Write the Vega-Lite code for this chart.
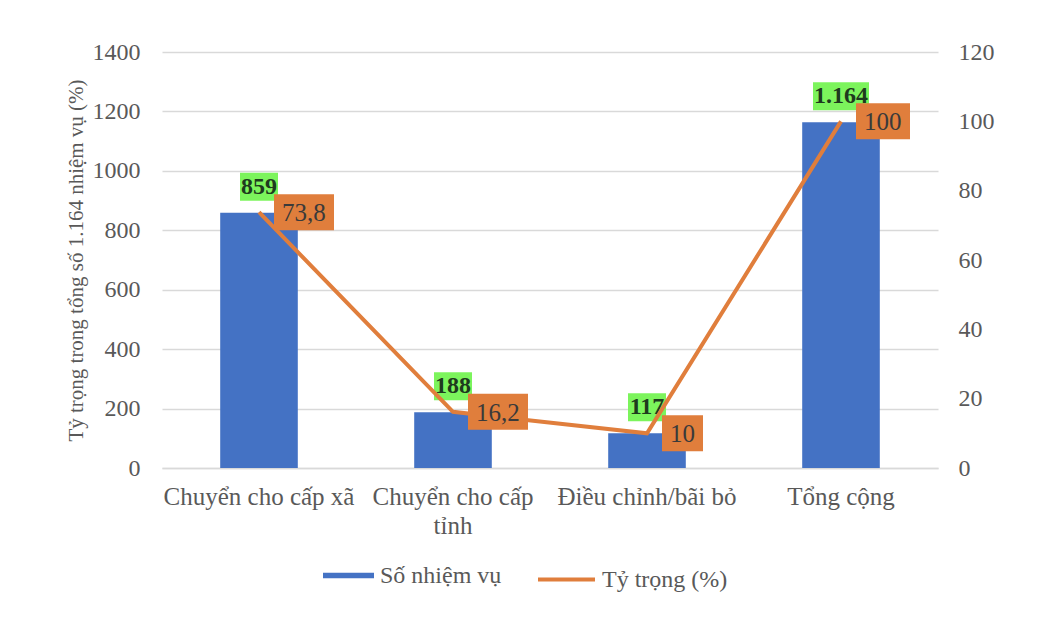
{
  "$schema": "https://vega.github.io/schema/vega-lite/v6.json",
  "autosize": {"type": "none"},
  "padding": {"left": 162, "top": 52, "right": 108, "bottom": 170},
  "width": 776,
  "height": 416,
  "background": "white",
  "config": {
    "locale": {"number": {"decimal": ",", "thousands": ".", "grouping": [3], "currency": ["", ""]}},
    "font": "Liberation Serif",
    "view": {"stroke": null},
    "text": {"font": "Liberation Serif"},
    "axis": {"labelFont": "Liberation Serif", "titleFont": "Liberation Serif", "labelColor": "#595959", "titleColor": "#595959"},
    "legend": {"labelFont": "Liberation Serif", "labelColor": "#595959"}
  },
  "data": {
    "values": [
      {"cat": "Chuyển cho cấp xã", "n": 859, "p": 73.8},
      {"cat": "Chuyển cho cấp tỉnh", "n": 188, "p": 16.2},
      {"cat": "Điều chỉnh/bãi bỏ", "n": 117, "p": 10},
      {"cat": "Tổng cộng", "n": 1164, "p": 100}
    ]
  },
  "encoding": {
    "x": {
      "field": "cat", "type": "nominal", "sort": null,
      "scale": {"paddingInner": 0.6, "paddingOuter": 0.3},
      "axis": {
        "title": null, "labelAngle": 0, "ticks": false, "labelFontSize": 25, "labelFont": "Liberation Serif",
        "labelPadding": 16, "labelLimit": 400, "domainColor": "#d9d9d9", "domainWidth": 1.5, "labelLineHeight": 29,
        "labelExpr": "datum.label == 'Chuyển cho cấp tỉnh' ? ['Chuyển cho cấp', 'tỉnh'] : datum.label"
      }
    }
  },
  "layer": [
    {
      "encoding": {
        "y": {
          "field": "n", "type": "quantitative",
          "scale": {"domain": [0, 1400]},
          "axis": {
            "title": "Tỷ trọng trong tổng số 1.164 nhiệm vụ (%)", "titleFontSize": 21, "titleFontWeight": "normal",
            "titleFont": "Liberation Serif", "labelFont": "Liberation Serif",
            "titlePadding": 6, "values": [0, 200, 400, 600, 800, 1000, 1200, 1400], "format": "d",
            "labelFontSize": 24, "labelPadding": 22, "ticks": false, "domain": false,
            "gridColor": "#d9d9d9", "gridWidth": 1.5
          }
        }
      },
      "layer": [
        {
          "mark": {"type": "bar"},
          "encoding": {
            "color": {
              "datum": "Số nhiệm vụ", "type": "nominal",
              "scale": {"range": ["#4472C4"]},
              "legend": {
                "title": null, "orient": "none", "legendX": 160, "legendY": 497,
                "symbolType": "M-1,-0.11H1V0.11H-1Z", "symbolSize": 2601, "symbolOpacity": 1,
                "labelFontSize": 24, "labelOffset": 5, "labelFont": "Liberation Serif"
              }
            }
          }
        },
        {
          "mark": {"type": "point", "filled": true, "size": 4, "opacity": 1, "fill": "#7CF45C", "strokeWidth": 0},
          "encoding": {
            "shape": {
              "condition": {"test": "datum.n >= 1000", "value": "M-28,-40H28V-12H-28Z"},
              "value": "M-19,-40H19V-12H-19Z"
            }
          }
        },
        {
          "mark": {"type": "text", "font": "Liberation Serif", "fontSize": 24, "fontWeight": "bold", "color": "#1e3a1e", "dy": -26, "baseline": "middle"},
          "encoding": {"text": {"field": "n", "type": "quantitative", "format": ",d"}}
        }
      ]
    },
    {
      "encoding": {
        "y": {
          "field": "p", "type": "quantitative",
          "scale": {"domain": [0, 120]},
          "axis": {
            "orient": "right", "title": null, "values": [0, 20, 40, 60, 80, 100, 120], "format": "d",
            "labelFont": "Liberation Serif",
            "labelFontSize": 24, "labelPadding": 20, "ticks": false, "domain": false, "grid": false
          }
        }
      },
      "layer": [
        {
          "mark": {"type": "line", "strokeWidth": 4},
          "encoding": {
            "stroke": {
              "datum": "Tỷ trọng (%)", "type": "nominal",
              "scale": {"range": ["#E07E3C"]},
              "legend": {
                "title": null, "orient": "none", "legendX": 374, "legendY": 497,
                "symbolType": "stroke", "symbolSize": 3249, "symbolStrokeWidth": 4,
                "labelFontSize": 24, "labelOffset": 5, "labelFont": "Liberation Serif"
              }
            }
          }
        },
        {
          "mark": {"type": "point", "filled": true, "size": 4, "opacity": 1, "fill": "#E07E3C", "strokeWidth": 0},
          "encoding": {
            "shape": {
              "condition": [
                {"test": "datum.p == 10", "value": "M15,-18H56V18H15Z"},
                {"test": "datum.p == 100", "value": "M15,-18H69V18H15Z"}
              ],
              "value": "M15,-18H75V18H15Z"
            }
          }
        },
        {
          "mark": {"type": "text", "font": "Liberation Serif", "fontSize": 25, "color": "#3a3a3a", "align": "left", "baseline": "middle", "dx": 23, "dy": 1},
          "encoding": {
            "text": {"field": "p", "type": "quantitative", "format": ".1~f"}
          }
        }
      ]
    }
  ],
  "resolve": {"scale": {"y": "independent"}}
}
